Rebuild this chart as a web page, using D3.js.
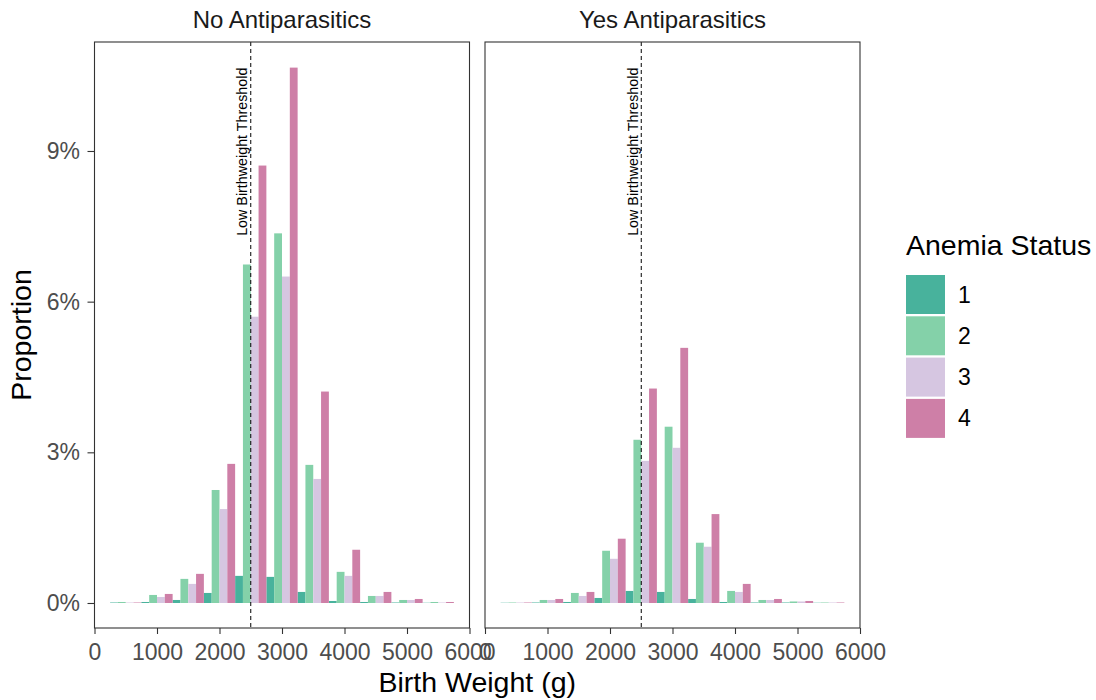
<!DOCTYPE html>
<html>
<head>
<meta charset="utf-8">
<script src="https://cdn.jsdelivr.net/npm/d3@7"></script>
<style>
  body { margin: 0; background: #fff; }
  text { font-family: "Liberation Sans", Arial, sans-serif; }
</style>
</head>
<body>
<div id="chart"></div>
<script>
// Histogram bins (centre of each 500 g bin)
var bins = [500, 1000, 1500, 2000, 2500, 3000, 3500, 4000, 4500, 5000, 5500];
var statuses = ["1", "2", "3", "4"];
var facets = ["No Antiparasitics", "Yes Antiparasitics"];
var xTicks = [0, 1000, 2000, 3000, 4000, 5000, 6000];
var yTicks = [0, 0.03, 0.06, 0.09];
var threshold = 2500;

// Proportion (%) per bin, by anemia status — No Antiparasitics
var noAnti1 = [0.01, 0.02, 0.06, 0.20, 0.54, 0.52, 0.22, 0.04, 0.02, 0.01, 0.005];
var noAnti2 = [0.02, 0.16, 0.48, 2.25, 6.74, 7.36, 2.75, 0.62, 0.14, 0.06, 0.02];
var noAnti3 = [0.01, 0.12, 0.38, 1.87, 5.70, 6.50, 2.47, 0.54, 0.14, 0.06, 0.01];
var noAnti4 = [0.01, 0.18, 0.58, 2.77, 8.71, 10.66, 4.21, 1.06, 0.22, 0.08, 0.02];

// Yes Antiparasitics
var yesAnti1 = [0.005, 0.01, 0.02, 0.10, 0.24, 0.22, 0.08, 0.02, 0.01, 0.01, 0.005];
var yesAnti2 = [0.01, 0.06, 0.20, 1.04, 3.25, 3.51, 1.20, 0.24, 0.06, 0.03, 0.01];
var yesAnti3 = [0.01, 0.06, 0.14, 0.88, 2.83, 3.09, 1.12, 0.22, 0.06, 0.03, 0.01];
var yesAnti4 = [0.01, 0.08, 0.22, 1.28, 4.27, 5.08, 1.77, 0.38, 0.08, 0.04, 0.01];

var colors = ["#48B29C", "#84D1A9", "#D6C6E1", "#CE7FA7"];

var series = [
    [noAnti1, noAnti2, noAnti3, noAnti4],
    [yesAnti1, yesAnti2, yesAnti3, yesAnti4]
];

var W = 1096, H = 700;
var top_ = 42, bottom = 628;
var panels = [{ x0: 94.5, x1: 469.5 }, { x0: 485, x1: 860 }];

var svg = d3.select("#chart").append("svg")
    .attr("width", W)
    .attr("height", H);

var y = d3.scaleLinear()
    .domain([-0.00498, 0.1117])
    .range([bottom, top_]);

var maxVal = d3.max(series, function(f) { return d3.max(f, function(s) { return d3.max(s); }); }) / 100;
var binWidth = 500, barWidth = binWidth / statuses.length;

panels.forEach(function(p, fi) {
    var x = d3.scaleLinear()
        .domain([0, 6000])
        .range([p.x0, p.x1]);

    var g = svg.append("g");

    // bars
    series[fi].forEach(function(vals, si) {
        g.selectAll("rect.s" + si)
            .data(vals)
          .enter().append("rect")
            .attr("class", "s" + si)
            .attr("x", function(d, i) { return x(bins[i] - binWidth / 2 + si * barWidth); })
            .attr("width", function(d, i) { return x(barWidth) - x(0); })
            .attr("y", function(d) { return y(d / 100); })
            .attr("height", function(d) { return y(0) - y(d / 100); })
            .attr("fill", colors[si]);
    });

    // threshold line + label
    g.append("line")
        .attr("x1", x(threshold)).attr("x2", x(threshold))
        .attr("y1", top_).attr("y2", bottom)
        .attr("stroke", "#000")
        .attr("stroke-width", 1)
        .attr("stroke-dasharray", "4,3");
    g.append("text")
        .attr("transform", "translate(" + (x(threshold) - 3.5) + "," + y(maxVal) + ") rotate(-90)")
        .attr("text-anchor", "end")
        .attr("font-size", "14.3px")
        .attr("fill", "#000")
        .text("Low Birthweight Threshold");

    // x axis
    var xAxis = d3.axisBottom(x)
        .tickValues(xTicks)
        .tickSize(6)
        .tickPadding(10)
        .tickFormat(d3.format("d"));
    var xa = g.append("g")
        .attr("transform", "translate(0," + bottom + ")")
        .call(xAxis);
    xa.select(".domain").remove();
    xa.selectAll("line").attr("stroke", "#333").attr("stroke-width", 1.1);
    xa.selectAll("text").attr("fill", "#4D4D4D").attr("font-size", "23px")
        .style("font-family", "'Liberation Sans', Arial, sans-serif");

    // y axis only on first panel
    if (fi === 0) {
        var yAxis = d3.axisLeft(y)
            .tickValues(yTicks)
            .tickSize(7)
            .tickPadding(7.5)
            .tickFormat(d3.format(".0%"));
        var ya = g.append("g")
            .attr("transform", "translate(" + p.x0 + ",0)")
            .call(yAxis);
        ya.select(".domain").remove();
        ya.selectAll("line").attr("stroke", "#333").attr("stroke-width", 1.1);
        ya.selectAll("text").attr("fill", "#4D4D4D").attr("font-size", "23px")
            .style("font-family", "'Liberation Sans', Arial, sans-serif");
    }

    // panel border
    g.append("rect")
        .attr("x", p.x0).attr("y", top_)
        .attr("width", p.x1 - p.x0).attr("height", bottom - top_)
        .attr("fill", "none")
        .attr("stroke", "#333")
        .attr("stroke-width", 1.1);

    // strip label
    g.append("text")
        .attr("x", (p.x0 + p.x1) / 2)
        .attr("y", 28.3)
        .attr("text-anchor", "middle")
        .attr("font-size", "24px")
        .attr("fill", "#1A1A1A")
        .text(facets[fi]);
});

// axis titles
svg.append("text")
    .attr("x", (panels[0].x0 + panels[1].x1) / 2)
    .attr("y", 692)
    .attr("text-anchor", "middle")
    .attr("font-size", "28.5px")
    .attr("fill", "#000")
    .text("Birth Weight (g)");

svg.append("text")
    .attr("transform", "translate(31," + (top_ + bottom) / 2 + ") rotate(-90)")
    .attr("text-anchor", "middle")
    .attr("font-size", "28.5px")
    .attr("fill", "#000")
    .text("Proportion");

// legend
var legend = svg.append("g").attr("transform", "translate(906,0)");
legend.append("text")
    .attr("x", 0).attr("y", 255)
    .attr("font-size", "28.5px")
    .attr("fill", "#000")
    .text("Anemia Status");

var items = legend.selectAll("g.item")
    .data(statuses)
  .enter().append("g")
    .attr("class", "item")
    .attr("transform", function(d, i) { return "translate(0," + (275 + i * 41.3) + ")"; });
items.append("rect")
    .attr("width", 39).attr("height", 39)
    .attr("fill", function(d, i) { return colors[i]; });
items.append("text")
    .attr("x", 52).attr("y", 19.5)
    .attr("dy", "0.35em")
    .attr("font-size", "23px")
    .attr("fill", "#000")
    .text(function(d) { return d; });
</script>
</body>
</html>
